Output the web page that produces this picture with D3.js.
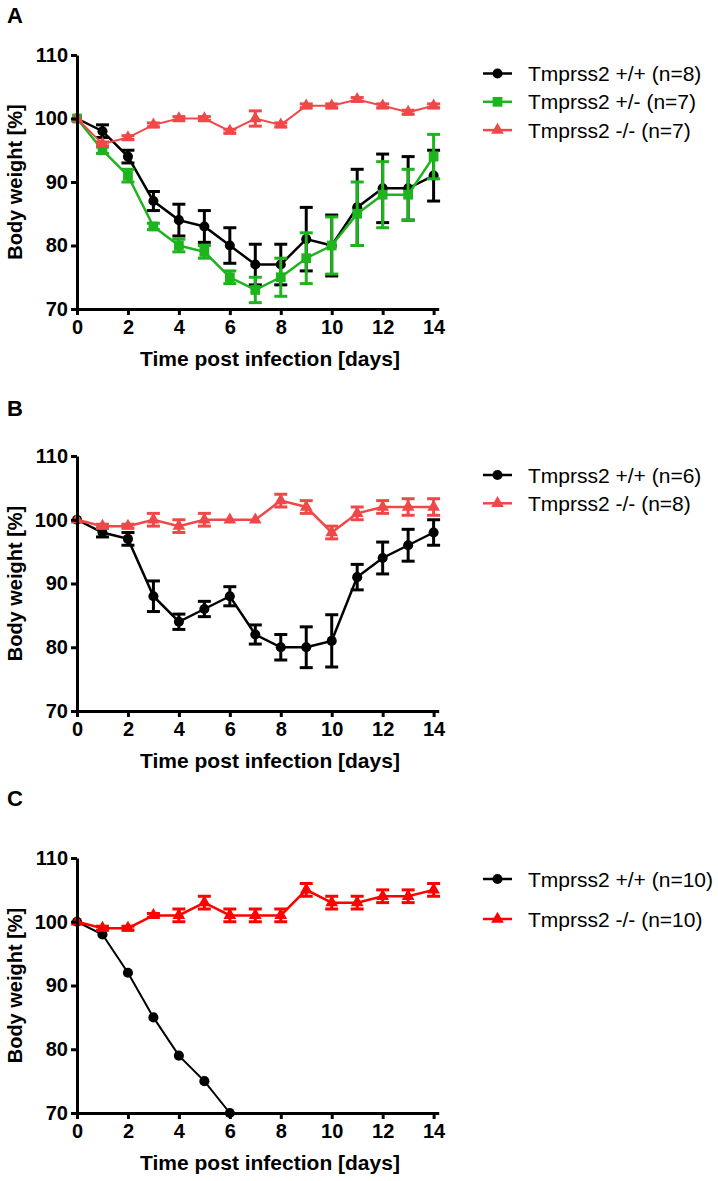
<!DOCTYPE html>
<html>
<head>
<meta charset="utf-8">
<script src="https://cdnjs.cloudflare.com/ajax/libs/d3/7.8.5/d3.min.js"></script>
<style>
  body { margin: 0; background: #fff; }
  svg text { font-family: "Liberation Sans", Arial, sans-serif; }
  .axis path, .axis line { stroke: #000; stroke-width: 3; }
  .axis text { font-size: 20px; font-weight: bold; fill: #000; }
</style>
</head>
<body>
<div id="chart"></div>
<script>
// days on the x axis
var days = [0, 1, 2, 3, 4, 5, 6, 7, 8, 9, 10, 11, 12, 13, 14];
var xTicks = [0, 2, 4, 6, 8, 10, 12, 14];
var yTicks = [70, 80, 90, 100, 110];

// panel A
var aWt = [100, 98, 94, 87, 84, 83, 80, 77, 77, 81, 80, 86, 89, 89, 91];
var aWtErr = [0, 1, 1, 1.5, 2.5, 2.5, 2.8, 3.2, 3.2, 5, 4.8, 6, 5.4, 5, 4];
var aHet = [100, 95, 91, 83, 80, 79, 75, 73, 75, 78, 80, 85, 88, 88, 94];
var aHetErr = [0, 0.5, 1, 0.5, 1, 1, 1, 2, 3, 4, 4.5, 5, 5.2, 4, 3.5];
var aKo = [100, 96, 97, 99, 100, 100, 98, 100, 99, 102, 102, 103, 102, 101, 102];
var aKoErr = [0, 0.3, 0.3, 0.3, 0.3, 0.3, 0.3, 1.2, 0.3, 0.3, 0.3, 0.3, 0.3, 0.3, 0.3];

// panel B
var bWt = [100, 98, 97, 88, 84, 86, 88, 82, 80, 80, 81, 91, 94, 96, 98];
var bWtErr = [0, 0.7, 1, 2.4, 1.2, 1.2, 1.5, 1.5, 2, 3.2, 4.1, 2, 2.5, 2.5, 2];
var bKo = [100, 99, 99, 100, 99, 100, 100, 100, 103, 102, 98, 101, 102, 102, 102];
var bKoErr = [0, 0.3, 0.3, 1, 1, 1, 0, 0, 1, 1, 1, 1, 1, 1.3, 1.3];

// panel C
var cWtDays = [0, 1, 2, 3, 4, 5, 6];
var cWt = [100, 98, 92, 85, 79, 75, 70];
var cKo = [100, 99, 99, 101, 101, 103, 101, 101, 101, 105, 103, 103, 104, 104, 105];
var cKoErr = [0, 0.3, 0.3, 0.3, 1, 1, 1, 1, 1, 1, 1, 1, 1, 1, 1];

var svg = d3.select("#chart").append("svg")
  .attr("width", 718)
  .attr("height", 1181);

var symbols = { circle: d3.symbolCircle, square: d3.symbolSquare, triangle: d3.symbolTriangle };
var symSize = { circle: 80, square: 95, triangle: 70 };

function drawPanel(p) {
  var x = d3.scaleLinear().domain([0, 14.2]).range([77, 438.7]);
  var y = d3.scaleLinear().domain([70, 110]).range([p.bottom, p.top]);
  var g = svg.append("g");

  // panel letter
  svg.append("text")
    .attr("x", 7).attr("y", p.letterY)
    .style("font-size", "22px").style("font-weight", "bold")
    .text(p.letter);

  // series
  p.series.forEach(function(s) {
    var xs = s.days || days;
    var pts = xs.map(function(d, i) { return { d: d, v: s.values[i], e: s.err ? s.err[i] : 0 }; });

    if (s.err) {
      var eb = g.append("g").attr("stroke", s.color).attr("stroke-width", 3).attr("fill", "none");
      pts.filter(function(q) { return q.e > 0; }).forEach(function(q) {
        eb.append("line")
          .attr("x1", x(q.d)).attr("x2", x(q.d))
          .attr("y1", y(q.v - q.e)).attr("y2", y(q.v + q.e));
        [q.v - q.e, q.v + q.e].forEach(function(c) {
          eb.append("line")
            .attr("x1", x(q.d) - 6.5).attr("x2", x(q.d) + 6.5)
            .attr("y1", y(c)).attr("y2", y(c));
        });
      });
    }

    var line = d3.line().x(function(q) { return x(q.d); }).y(function(q) { return y(q.v); });
    g.append("path").datum(pts)
      .attr("d", line)
      .attr("fill", "none")
      .attr("stroke", s.color)
      .attr("stroke-width", s.width || 2.5);

    g.selectAll(null).data(pts).enter().append("path")
      .attr("transform", function(q) { return "translate(" + x(q.d) + "," + y(q.v) + ")"; })
      .attr("d", d3.symbol().type(symbols[s.shape]).size(symSize[s.shape]))
      .attr("fill", s.color);
  });

  // axes
  g.append("g").attr("class", "axis")
    .attr("transform", "translate(0," + p.bottom + ")")
    .call(d3.axisBottom(x).tickValues(xTicks).tickSize(6).tickSizeOuter(0).tickPadding(5));
  g.append("g").attr("class", "axis")
    .attr("transform", "translate(77,0)")
    .call(d3.axisLeft(y).tickValues(yTicks).tickSize(6).tickSizeOuter(0).tickPadding(3));

  // axis titles
  svg.append("text")
    .attr("x", 270).attr("y", p.bottom + 57)
    .attr("text-anchor", "middle")
    .style("font-size", "21px").style("font-weight", "bold")
    .text("Time post infection [days]");
  svg.append("text")
    .attr("transform", "translate(22," + ((p.top + p.bottom) / 2) + ") rotate(-90)")
    .attr("text-anchor", "middle")
    .style("font-size", "20px").style("font-weight", "bold")
    .text("Body weight [%]");

  // legend
  p.series.forEach(function(s, i) {
    var ly = p.legendY + i * p.legendStep;
    var lg = svg.append("g");
    lg.append("line")
      .attr("x1", 483).attr("x2", 512).attr("y1", ly).attr("y2", ly)
      .attr("stroke", s.color).attr("stroke-width", 2.5);
    lg.append("path")
      .attr("transform", "translate(497.5," + ly + ")")
      .attr("d", d3.symbol().type(symbols[s.shape]).size(symSize[s.shape]))
      .attr("fill", s.color);
    lg.append("text")
      .attr("x", 528).attr("y", ly + 7.5)
      .style("font-size", "21px")
      .text(s.label);
  });
}

var black = "#000000", green = "#1db41d", lightRed = "#f04848", red = "#ff0000";

drawPanel({
  letter: "A", letterY: 23, top: 55, bottom: 309,
  legendY: 73.5, legendStep: 28.3,
  series: [
    { label: "Tmprss2 +/+ (n=8)", values: aWt, err: aWtErr, color: black, shape: "circle" },
    { label: "Tmprss2 +/- (n=7)", values: aHet, err: aHetErr, color: green, shape: "square" },
    { label: "Tmprss2 -/- (n=7)", values: aKo, err: aKoErr, color: lightRed, shape: "triangle", width: 2 }
  ]
});

drawPanel({
  letter: "B", letterY: 416, top: 456, bottom: 711,
  legendY: 475, legendStep: 28.3,
  series: [
    { label: "Tmprss2 +/+ (n=6)", values: bWt, err: bWtErr, color: black, shape: "circle" },
    { label: "Tmprss2 -/- (n=8)", values: bKo, err: bKoErr, color: lightRed, shape: "triangle" }
  ]
});

drawPanel({
  letter: "C", letterY: 806, top: 858, bottom: 1113,
  legendY: 879, legendStep: 40,
  series: [
    { label: "Tmprss2 +/+ (n=10)", values: cWt, days: cWtDays, color: black, shape: "circle", width: 2 },
    { label: "Tmprss2 -/- (n=10)", values: cKo, err: cKoErr, color: red, shape: "triangle" }
  ]
});
</script>
</body>
</html>
